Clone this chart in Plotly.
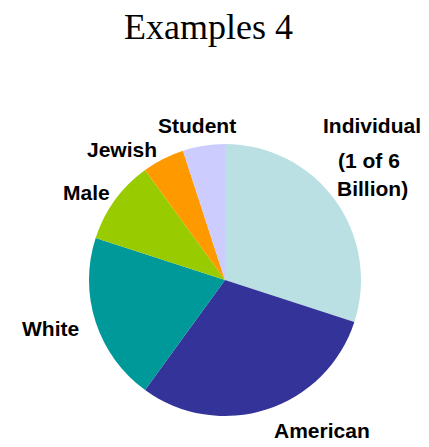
import plotly.graph_objects as go

W, H = 429, 447

categories = ["Individual (1 of 6 Billion)", "American", "White", "Male", "Jewish", "Student"]
values = [30, 30, 20, 10, 5, 5]
colors = ["#BBE0E3", "#333399", "#009999", "#99CC00", "#FF9900", "#CCCCFF"]

# label text lines and their pixel centers (layout only)
label_lines = [
    ("Individual", 372, 125),
    ("(1 of 6", 369, 160),
    ("Billion)", 372, 188),
    ("American", 322, 430),
    ("White", 50, 328),
    ("Male", 86, 192),
    ("Jewish", 122, 150),
    ("Student", 197, 125),
]

def px(x):
    return x / W

def py(y):
    return 1 - y / H

fig = go.Figure(go.Pie(
    labels=categories,
    values=values,
    marker=dict(colors=colors, line=dict(width=0)),
    sort=False,
    direction="clockwise",
    rotation=0,
    textinfo="none",
    hoverinfo="label+percent",
    showlegend=False,
    domain=dict(x=[px(89), px(361)], y=[py(416), py(144)]),
))

annotations = [dict(
    text="Examples 4", x=px(208), y=py(27), xref="paper", yref="paper",
    showarrow=False, xanchor="center", yanchor="middle",
    font=dict(family="Liberation Serif, Times New Roman, serif", size=36, color="black"),
)]
for txt, x, y in label_lines:
    annotations.append(dict(
        text="<b>" + txt + "</b>", x=px(x), y=py(y), xref="paper", yref="paper",
        showarrow=False, xanchor="center", yanchor="middle",
        font=dict(family="Liberation Sans, Arial, sans-serif", size=21, color="black"),
    ))

fig.update_layout(
    width=W, height=H,
    margin=dict(l=0, r=0, t=0, b=0),
    paper_bgcolor="white",
    plot_bgcolor="white",
    annotations=annotations,
)

fig.write_html(
    "out.html",
    config={"displayModeBar": False},
    post_script="document.body.style.margin='0';document.body.style.overflow='hidden';",
)
